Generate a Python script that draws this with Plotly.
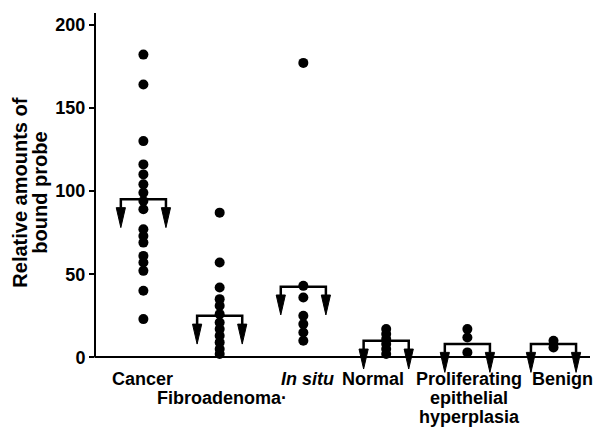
import plotly.graph_objects as go

# ---- data ----
categories = ["Cancer", "Fibroadenoma", "In situ", "Normal",
              "Proliferating epithelial hyperplasia", "Benign"]
cat_pos = [1.0, 1.93, 2.95, 3.96, 4.95, 6.0]
cancer = [182, 164, 130, 116, 110, 104, 99, 94, 89, 77, 73, 69, 61, 57, 52, 40, 23]
fibroadenoma = [87, 57, 42, 35, 31, 26, 21, 17, 13, 9, 5, 2]
in_situ = [177, 43, 36, 25, 20, 15, 10]
normal = [17, 14, 11, 8, 5, 2]
proliferating = [17, 12, 3]
benign = [10, 6]
group_values = [cancer, fibroadenoma, in_situ, normal, proliferating, benign]
means = [95, 25, 42.5, 10, 8, 8]

label_texts = ["Cancer", "Fibroadenoma\u00b7", "<i>In situ</i>", "Normal",
               "Proliferating<br>epithelial<br>hyperplasia", "Benign"]
label_first_row = [0, 1, 0, 0, 0, 0]
label_xshift = [-1, 2, 4, -13, 2, 9]

y_ticks = [0, 50, 100, 150, 200]
y_title_lines = ["Relative amounts of", "bound probe"]

# ---- style ----
FONT = "Liberation Sans, Arial, Helvetica, sans-serif"
HW = 0.275      # bracket half width (x units)
HHW = 0.056     # arrow head half width
STEM = 5.0      # stem length (y units)
HEAD = 12.0     # arrow head length
Y_MIN, Y_MAX = -16, 207
PAGE_OFFSET = 8  # default body margin of the html page

fig = go.Figure()

# mean brackets with arrows
for p, m in zip(cat_pos, means):
    fig.add_trace(go.Scatter(
        x=[p - HW, p - HW, p + HW, p + HW],
        y=[m - STEM, m, m, m - STEM],
        mode="lines", line=dict(color="black", width=2.5),
        hoverinfo="skip", showlegend=False))
    for sx in (p - HW, p + HW):
        fig.add_trace(go.Scatter(
            x=[sx - HHW, sx + HHW, sx, sx - HHW],
            y=[m - STEM, m - STEM, m - STEM - HEAD, m - STEM],
            mode="lines", fill="toself", fillcolor="black",
            line=dict(color="black", width=1),
            hoverinfo="skip", showlegend=False))

# data points
for p, vals, name in zip(cat_pos, group_values, categories):
    fig.add_trace(go.Scatter(
        x=[p] * len(vals), y=vals, mode="markers", name=name,
        marker=dict(color="black", size=10, line=dict(width=0)),
        showlegend=False, cliponaxis=False))

annotations = []
# x category labels
for p, txt, row0, xs in zip(cat_pos, label_texts, label_first_row, label_xshift):
    for i, line in enumerate(txt.split("<br>")):
        annotations.append(dict(
            x=p, y=0, xref="x", yref="y", text=line, showarrow=False,
            xanchor="center", yanchor="top", xshift=xs,
            yshift=-10 - 19 * (row0 + i),
            font=dict(family=FONT, size=18, color="black", weight="bold")))

# y title (two rotated lines)
for i, line in enumerate(y_title_lines):
    annotations.append(dict(
        x=0, y=99, xref="paper", yref="y", text=line, showarrow=False,
        textangle=-90, xanchor="center", yanchor="middle",
        xshift=-75 + 20 * i,
        font=dict(family=FONT, size=20, color="black", weight="bold")))

fig.update_layout(
    width=602 - PAGE_OFFSET, height=439 - PAGE_OFFSET,
    margin=dict(l=95 - PAGE_OFFSET, r=12, t=13 - PAGE_OFFSET, b=55),
    paper_bgcolor="white", plot_bgcolor="white",
    showlegend=False,
    annotations=annotations,
    shapes=[dict(type="line", xref="paper", yref="y", x0=0, x1=0,
                 y0=0, y1=Y_MAX, line=dict(color="black", width=2))],
    xaxis=dict(range=[0.41, 6.445], showgrid=False, zeroline=False,
               showline=False, showticklabels=False, ticks=""),
    yaxis=dict(range=[Y_MIN, Y_MAX], tickvals=y_ticks, ticks="outside",
               ticklen=5, tickwidth=2, tickcolor="black",
               showgrid=False, showline=False,
               zeroline=True, zerolinecolor="black", zerolinewidth=2,
               tickfont=dict(family=FONT, size=18, color="black", weight="bold")),
)

fig.write_html("out.html")
